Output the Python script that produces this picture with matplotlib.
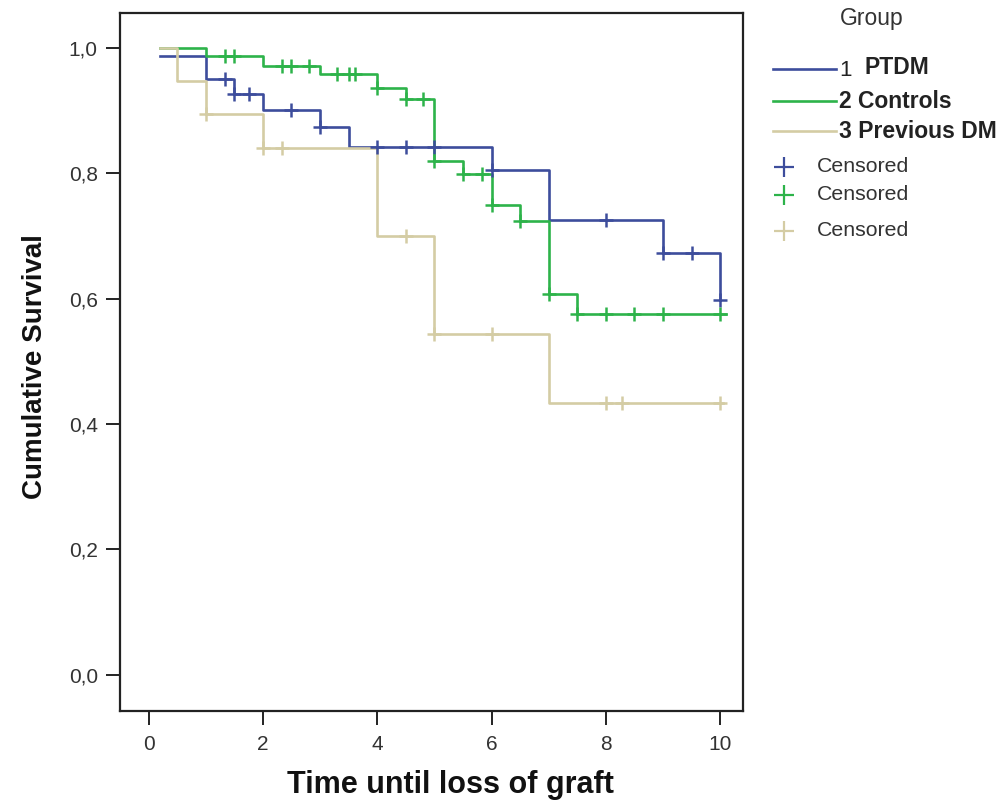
import matplotlib
matplotlib.use("Agg")
import matplotlib.pyplot as plt
from matplotlib.lines import Line2D
from matplotlib.ticker import FuncFormatter

plt.rcParams['font.family'] = ['Liberation Sans', 'DejaVu Sans']

# ---------------- data ----------------
groups = ["1  PTDM", "2 Controls", "3 Previous DM"]
colors = ["#3d4d9c", "#2db34a", "#d4cca4"]

start_time = 0.2
end_time = [10.0, 10.1, 10.05]

# PTDM
ptdm_event_t = [1.0, 1.5, 2.0, 3.0, 3.5, 6.0, 7.0, 9.0, 10.0]
ptdm_event_s = [0.951, 0.927, 0.901, 0.874, 0.842, 0.805, 0.726, 0.673, 0.598]
ptdm_start_s = 0.987
ptdm_cens_t = [1.33, 1.5, 1.75, 2.5, 3.0, 4.0, 4.5, 5.0, 6.0, 8.0, 9.0, 9.5, 10.0]

# Controls
ctrl_event_t = [1.0, 2.0, 3.0, 4.0, 4.5, 5.0, 5.5, 6.0, 6.5, 7.0, 7.5]
ctrl_event_s = [0.988, 0.971, 0.958, 0.936, 0.918, 0.820, 0.799, 0.750, 0.724, 0.608, 0.576]
ctrl_start_s = 1.0
ctrl_cens_t = [1.33, 1.5, 2.33, 2.5, 2.8, 3.3, 3.5, 3.62, 4.0, 4.5, 4.8, 5.0,
               5.5, 5.83, 6.0, 6.5, 7.0, 7.5, 8.0, 8.5, 9.0, 10.0]

# Previous DM
prev_event_t = [0.5, 1.0, 2.0, 4.0, 5.0, 7.0]
prev_event_s = [0.947, 0.895, 0.840, 0.700, 0.543, 0.433]
prev_start_s = 1.0
prev_cens_t = [1.0, 2.0, 2.33, 4.5, 5.0, 6.0, 8.0, 8.28, 10.0]

series = [
    (ptdm_start_s, ptdm_event_t, ptdm_event_s, ptdm_cens_t),
    (ctrl_start_s, ctrl_event_t, ctrl_event_s, ctrl_cens_t),
    (prev_start_s, prev_event_t, prev_event_s, prev_cens_t),
]

x_ticks = [0, 2, 4, 6, 8, 10]
y_ticks = [0.0, 0.2, 0.4, 0.6, 0.8, 1.0]


def surv_at(t, s0, et, es):
    s = s0
    for tt, ss in zip(et, es):
        if t >= tt - 1e-9:
            s = ss
    return s


W, H = 1001, 811
fig = plt.figure(figsize=(W / 100, H / 100), dpi=100)
ax = fig.add_axes([120 / W, 1 - 711 / H, (743 - 120) / W, (711 - 13) / H])

# draw order: previous DM (back), PTDM, Controls on top
for idx in [2, 0, 1]:
    s0, et, es, ct = series[idx]
    xs = [start_time] + list(et) + [end_time[idx]]
    ys = [s0] + list(es) + [es[-1]]
    ax.step(xs, ys, where='post', color=colors[idx], lw=1.9, zorder=2 + idx * 0.1)
    cy = [surv_at(t, s0, et, es) for t in ct]
    ax.plot(ct, cy, linestyle='none', marker='+', markersize=10, mew=1.8,
            color=colors[idx], zorder=3)

ax.set_xlim(-0.5, 10.4)
ax.set_ylim(-0.058, 1.056)
ax.set_xticks(x_ticks)
ax.set_yticks(y_ticks)
ax.yaxis.set_major_formatter(FuncFormatter(lambda v, p: f"{v:.1f}".replace('.', ',')))
ax.tick_params(axis='both', direction='out', length=10, width=1.4,
               labelsize=15, labelcolor='#333333', color='#222222')
ax.tick_params(axis='y', pad=6)
ax.tick_params(axis='x', pad=7)
for sp in ax.spines.values():
    sp.set_linewidth(1.6)
    sp.set_color('#222222')

ax.set_xlabel("Time until loss of graft", fontsize=22, fontweight='bold',
              color='#111111')
ax.xaxis.set_label_coords(0.531, -0.084)
ax.set_ylabel("Cumulative Survival", fontsize=20, fontweight='bold',
              color='#111111')
ax.yaxis.set_label_coords(-0.1156, 0.494)

# ---------------- legend (figure pixel coordinates) ----------------
def fx(px):
    return px / W


def fy(py):
    return 1 - py / H


fig.text(fx(872), fy(18), "Group", fontsize=16.5, ha='center', va='center', color='#333333')
rows_y = [69, 101, 131]
for i, yy in enumerate(rows_y):
    fig.add_artist(Line2D([fx(773), fx(836)], [fy(yy), fy(yy)], color=colors[i], lw=1.9))
fig.text(fx(839), fy(rows_y[0] + 2), "1", fontsize=16, ha='left', va='center', color='#222222')
fig.text(fx(864), fy(rows_y[0] - 2), "PTDM", fontsize=16.5, fontweight='bold', ha='left', va='center', color='#222222')
fig.text(fx(839), fy(rows_y[1]), "2 Controls", fontsize=16.5, fontweight='bold', ha='left', va='center', color='#222222')
fig.text(fx(839), fy(rows_y[2]), "3 Previous DM", fontsize=16.5, fontweight='bold', ha='left', va='center', color='#222222')

cens_y = [167, 195, 231]
for i, yy in enumerate(cens_y):
    fig.add_artist(Line2D([fx(784)], [fy(yy)], linestyle='none', marker='+',
                          markersize=15, mew=1.6, color=colors[i]))
    fig.text(fx(817), fy(yy), "Censored", fontsize=15.3, ha='left', va='center', color='#333333')

fig.savefig("out.png", dpi=100)
